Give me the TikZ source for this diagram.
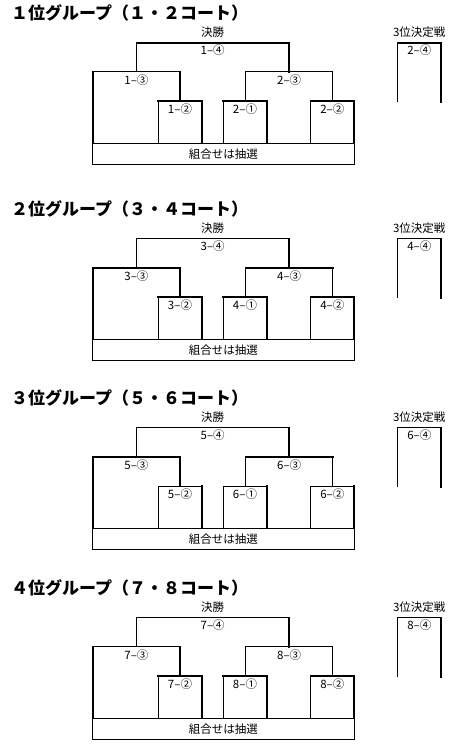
\documentclass[tikz,border=0pt]{standalone}
\usepackage{fontspec}
\newfontfamily\jp{Noto Sans CJK JP}
\tikzset{
  thn/.style={line width=0.8pt, line cap=rect},
  thk/.style={line width=1.8pt, line cap=rect},
  s-ft/.style={thn}, s-fl/.style={thn}, s-fr/.style={thk},
  s-st1/.style={thn}, s-sl1/.style={thk}, s-sr1/.style={thk},
  s-at/.style={thn}, s-al/.style={thn}, s-ar/.style={thk},
  s-bt/.style={thn}, s-bl/.style={thn}, s-br/.style={thk},
  s-st2/.style={thn}, s-sl2/.style={thn}, s-sr2/.style={thn},
  s-ct/.style={thn}, s-cl/.style={thn}, s-cr/.style={thk},
  s-tt/.style={thn}, s-tl/.style={thn}, s-tr/.style={thk},
  lbl/.style={font=\jp\fontsize{11.5}{12}\selectfont, inner sep=0pt},
  ttl/.style={font=\jp\bfseries\fontsize{17}{18}\selectfont, anchor=west, inner sep=0pt},
  poolbox/.style={draw, thn, minimum width=261.3pt, minimum height=21pt, inner sep=0pt,
                  font=\jp\fontsize{11.5}{12}\selectfont},
}
% #1 base y, #2 prefix, #3 title, #4 first court, #5 second court, #6 style overrides
\newcommand\bracketgroup[6]{%
\begin{scope}[shift={(0,#1)}, name prefix=#2-, #6]
  \node[ttl] (title) at (11,-30) {#3};
  \node[lbl] (finlbl) at (212.7,-10.7) {決勝};
  \node[lbl] (thirdlbl) at (419.3,-10.7) {3位決定戦};
  \node[poolbox] (pool) at (223.35,111.5) {組合せは抽選};
  % final
  \coordinate (F1) at (136.7,0);   \coordinate (F2) at (288.7,0);
  \coordinate (F1b) at (136.7,29); \coordinate (F2b) at (288.7,29);
  % semis
  \coordinate (S1a) at (92.7,29);  \coordinate (S1b) at (180,29);
  \coordinate (S2a) at (245.7,29); \coordinate (S2b) at (332.7,29);
  % first-round boxes
  \coordinate (Aa) at (158.3,58.5); \coordinate (Ab) at (201.7,58.5);
  \coordinate (Ba) at (223.3,58.5); \coordinate (Bb) at (266.7,58.5);
  \coordinate (Ca) at (310.7,58.5); \coordinate (Cb) at (354,58.5);
  \coordinate (A0) at (180,58.5); \coordinate (B0) at (245.7,58.5); \coordinate (C0) at (332.7,58.5);
  % third place
  \coordinate (T1) at (397.7,0); \coordinate (T2) at (441,0);
  \coordinate (T1b) at (397.7,59); \coordinate (T2b) at (441,59);
  % labels
  \node[lbl] (m4) at (212.7,7.3) {#4–④};
  \node[lbl] (m3a) at (136.4,37.3) {#4–③};
  \node[lbl] (m3b) at (289.2,37.3) {#5–③};
  \node[lbl] (m2a) at (180,66.3) {#4–②};
  \node[lbl] (m1b) at (245,66.3) {#5–①};
  \node[lbl] (m2b) at (332.3,66.3) {#5–②};
  \node[lbl] (m4b) at (419.3,7.3) {#5–④};
  % lines
  \draw[s-ft] (F1) -- (F2);
  \draw[s-fl] (F1) -- (F1b);
  \draw[s-fr] (F2) -- (F2b);
  \draw[s-st1] (S1a) -- (S1b);
  \draw[s-sl1] (S1a) -- (S1a |- pool.north);
  \draw[s-sr1] (S1b) -- (A0);
  \draw[s-st2] (S2a) -- (S2b);
  \draw[s-sl2] (S2a) -- (B0);
  \draw[s-sr2] (S2b) -- (C0);
  \draw[s-at] (Aa) -- (Ab);
  \draw[s-al] (Aa) -- (Aa |- pool.north);
  \draw[s-ar] (Ab) -- (Ab |- pool.north);
  \draw[s-bt] (Ba) -- (Bb);
  \draw[s-bl] (Ba) -- (Ba |- pool.north);
  \draw[s-br] (Bb) -- (Bb |- pool.north);
  \draw[s-ct] (Ca) -- (Cb);
  \draw[s-cl] (Ca) -- (Ca |- pool.north);
  \draw[s-cr] (Cb) -- (Cb |- pool.north);
  \draw[s-tt] (T1) -- (T2);
  \draw[s-tl] (T1) -- (T1b);
  \draw[s-tr] (T2) -- (T2b);
\end{scope}}
\begin{document}
\begin{tikzpicture}[x=1pt,y=-1pt]
  \useasboundingbox (0,0) rectangle (466,753);
  \bracketgroup{42.7}{g1}{１位グループ（１・２コート）}{1}{2}%
    {s-ft/.style={thk}, s-at/.style={thk}, s-bt/.style={thk}, s-ct/.style={thk}, s-tt/.style={thk}}
  \bracketgroup{238.7}{g2}{２位グループ（３・４コート）}{3}{4}%
    {s-st1/.style={thk}, s-at/.style={thk}, s-bt/.style={thk}, s-st2/.style={thk}, s-ct/.style={thk}}
  \bracketgroup{427.7}{g3}{３位グループ（５・６コート）}{5}{6}%
    {s-st1/.style={thk}, s-st2/.style={thk}}
  \bracketgroup{617.7}{g4}{４位グループ（７・８コート）}{7}{8}%
    {s-at/.style={thk}, s-bt/.style={thk}, s-ct/.style={thk}}
\end{tikzpicture}
\end{document}
